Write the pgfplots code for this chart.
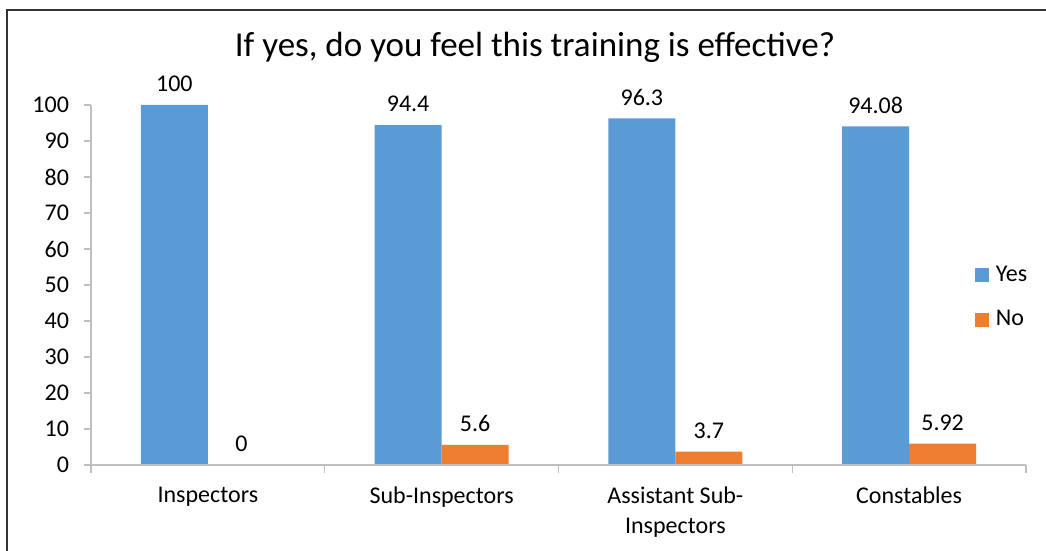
\documentclass[border=0pt]{standalone}
\usepackage{pgfplots}
\pgfplotsset{compat=1.18}
\usepackage{fontspec}
\setmainfont{Carlito}
\definecolor{yesc}{HTML}{5B9BD5}
\definecolor{noc}{HTML}{ED7D31}
\definecolor{axc}{HTML}{BFBFBF}
\begin{document}
\begin{tikzpicture}
\useasboundingbox (-45.5pt,-43pt) rectangle (477.5pt,232.5pt);
\draw[line width=1pt, black!80] (-42pt,-43pt) -- (-42pt,227.5pt) -- (477.5pt,227.5pt);
\begin{axis}[
  at={(0,0)}, anchor=south west,
  scale only axis, width=467.5pt, height=180pt,
  ybar=0pt, bar width=33.5pt,
  xmin=-0.5, xmax=3.5, ymin=0, ymax=100,
  xtick={0,1,2,3},
  xticklabels={Inspectors, Sub-Inspectors, {Assistant Sub-\\Inspectors}, Constables},
  xticklabel style={align=center, yshift=-4pt, font=\fontsize{12}{15}\selectfont},
  yticklabel style={xshift=-4pt},
  minor xtick={-0.5,0.5,1.5,2.5,3.5},
  ytick={0,10,...,100},
  axis x line*=bottom, axis y line*=left,
  axis line style={axc, line width=0.7pt, -},
  axis on top,
  tick align=outside,
  major tick length=3.5pt, minor tick length=4pt,
  tick style={axc, line width=0.7pt},
  major x tick style={draw=none},
  font=\fontsize{12}{14}\selectfont,
  /pgf/number format/assume math mode=true,
  nodes near coords,
  every node near coord/.append style={font=\fontsize{12}{14}\selectfont, yshift=3pt, black},
  legend style={draw=none, fill=none, at={(0.945,0.565)}, anchor=north west,
    font=\fontsize{12}{14}\selectfont, row sep=9pt, inner sep=0pt,
    nodes={inner xsep=3.5pt}},
  legend cell align=left,
  legend image code/.code={\fill[#1] (0pt,-3.5pt) rectangle (7pt,3.5pt);},
]
\addplot[fill=yesc, draw=none] coordinates {(0,100) (1,94.4) (2,96.3) (3,94.08)};
\addplot[fill=noc, draw=none] coordinates {(0,0) (1,5.6) (2,3.7) (3,5.92)};
\legend{Yes, No}
\end{axis}
\node[font=\fontsize{17.5}{21}\selectfont] at (222pt,209pt) {If yes, do you feel this training is effective?};
\end{tikzpicture}
\end{document}
